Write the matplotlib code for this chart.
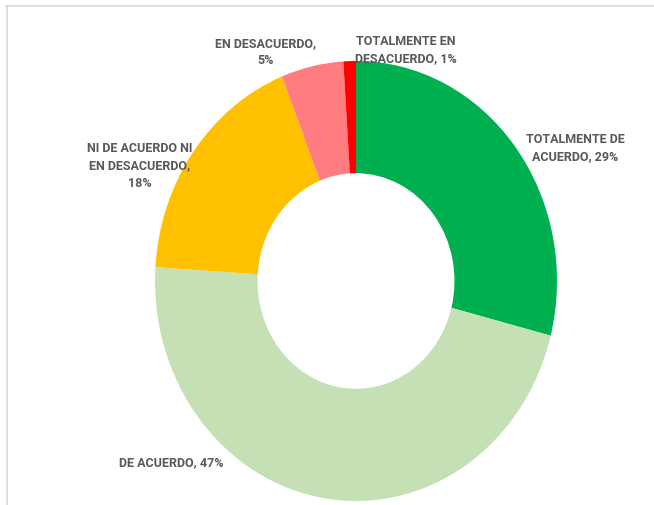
import matplotlib
matplotlib.use("Agg")
import matplotlib.pyplot as plt
from matplotlib.lines import Line2D

categories = ["TOTALMENTE DE ACUERDO", "DE ACUERDO", "NI DE ACUERDO NI EN DESACUERDO",
              "EN DESACUERDO", "TOTALMENTE EN DESACUERDO"]
values = [29, 47, 18, 5, 1]
colors = ["#00B050", "#C5E0B4", "#FFC000", "#FF7C80", "#FF0000"]
label_texts = ["TOTALMENTE DE\nACUERDO, 29%", "DE ACUERDO, 47%",
               "NI DE ACUERDO NI\nEN DESACUERDO,\n18%", "EN DESACUERDO,\n5%",
               "TOTALMENTE EN\nDESACUERDO, 1%"]
# label centres in pixels (x, y from top)
label_pos = [(575, 148), (171, 463), (140, 166), (266, 52), (406, 50)]

W, H = 654, 506
fig = plt.figure(figsize=(W / 100, H / 100), dpi=100)
fig.patch.set_facecolor("white")

# donut axes: outer ellipse spans x 155..557, y 62..502
left, right, top, bottom = 155, 557, 62, 502
ax = fig.add_axes([left / W, 1 - bottom / H, (right - left) / W, (bottom - top) / H])
ax.pie(values, colors=colors, startangle=90, counterclock=False,
       wedgeprops=dict(width=0.51, linewidth=0), radius=1.0)
ax.set_aspect("auto")
ax.set_xlim(-1, 1)
ax.set_ylim(-1, 1)
ax.axis("off")

for txt, (px, py) in zip(label_texts, label_pos):
    fig.text(px / W, 1 - py / H, txt, ha="center", va="center", fontsize=9,
             fontweight="bold", color="#595959", family="Roboto", linespacing=1.45)

# chart frame (top and left edges)
fig.add_artist(Line2D([6 / W, 1], [1 - 7 / H, 1 - 7 / H], color="#d9d9d9", lw=1.2))
fig.add_artist(Line2D([7 / W, 7 / W], [0, 1 - 7 / H], color="#d9d9d9", lw=1.2))

fig.savefig("out.png", dpi=100)
